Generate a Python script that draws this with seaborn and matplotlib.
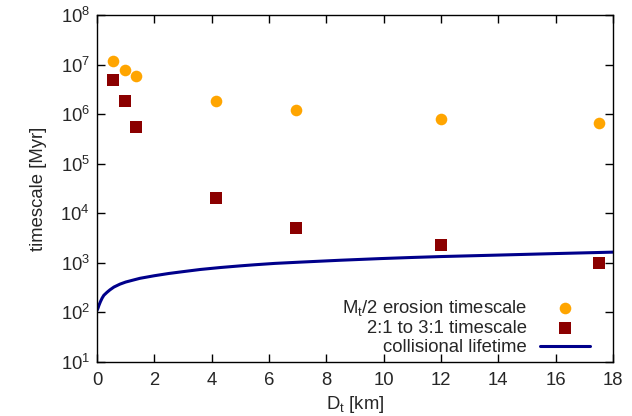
import matplotlib
matplotlib.use("Agg")
import matplotlib.pyplot as plt
import seaborn as sns
import numpy as np
import pandas as pd
from matplotlib.ticker import LogLocator, NullLocator

# Data
diam_km = [0.56, 0.98, 1.36, 4.15, 6.94, 12.0, 17.5]
erosion_myr = [1.2e7, 7.7e6, 5.9e6, 1.85e6, 1.2e6, 8.0e5, 6.6e5]
resonance_myr = [4.9e6, 1.8e6, 5.5e5, 2.0e4, 5.1e3, 2.3e3, 1.0e3]

coll_d_km = [0.0, 0.03, 0.07, 0.12, 0.18, 0.24, 0.35, 0.45, 0.59, 0.8, 1.0, 1.29,
             1.5, 2.0, 2.5, 3.0, 3.6, 4.3, 5.0, 5.5, 6.2, 7.1, 8.5, 9.9, 11.0,
             12.0, 13.9, 16.0, 18.0]
coll_myr = [110, 120, 140, 165, 195, 222, 255, 285, 325, 372, 410, 454,
            488, 550, 610, 665, 735, 805, 870, 915, 975, 1035, 1130, 1220, 1285,
            1340, 1430, 1540, 1645]

labels = ["M$_t$/2 erosion timescale", "2:1 to 3:1 timescale", "collisional lifetime"]

sns.set_theme(style="ticks")
plt.rcParams["font.family"] = ["Liberation Sans", "DejaVu Sans"]
plt.rcParams["mathtext.default"] = "regular"

fig = plt.figure(figsize=(6.32, 4.16), dpi=100)
ax = fig.add_axes([97/632, 1 - 362/416, (613 - 97)/632, (362 - 15)/416])

df_pts = pd.DataFrame({"D": diam_km, "ero": erosion_myr, "res": resonance_myr})
df_line = pd.DataFrame({"D": coll_d_km, "tau": coll_myr})

sns.scatterplot(data=df_pts, x="D", y="ero", ax=ax, color="#FFA500", marker="o",
                s=70, linewidth=0, label=labels[0], zorder=3)
sns.scatterplot(data=df_pts, x="D", y="res", ax=ax, color="#8B0000", marker="s",
                s=75, linewidth=0, label=labels[1], zorder=3)
sns.lineplot(data=df_line, x="D", y="tau", ax=ax, color="#00008B", linewidth=2.2,
             label=labels[2], zorder=2)

ax.set_yscale("log")
ax.set_xlim(0, 18)
ax.set_ylim(10, 1e8)
ax.set_xticks(range(0, 19, 2))
ax.yaxis.set_major_locator(LogLocator(base=10, numticks=10))
ax.yaxis.set_minor_locator(NullLocator())

ax.tick_params(axis="both", which="major", direction="in", length=5.5, width=1,
               top=True, right=True, labelsize=13.3, color="black")
ax.tick_params(axis="x", pad=7)
ax.tick_params(axis="y", pad=5)
for s in ax.spines.values():
    s.set_linewidth(1.0)
    s.set_color("black")

ax.set_xlabel("D$_t$ [km]", fontsize=13.3, labelpad=4)
ax.set_ylabel("timescale [Myr]", fontsize=13.3, labelpad=10)

leg = ax.legend(loc="lower right", bbox_to_anchor=(590/632, 1 - 356/416),
                bbox_transform=fig.transFigure, frameon=False, markerfirst=False,
                fontsize=13.3, borderpad=0, borderaxespad=0, handlelength=2.7,
                handletextpad=0.7, labelspacing=0.12)

fig.savefig("out.png", dpi=100)
